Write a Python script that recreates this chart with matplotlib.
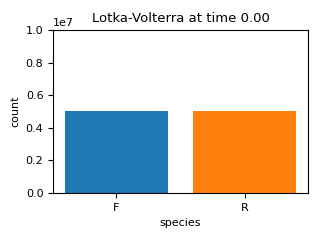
import matplotlib
matplotlib.use("Agg")
import matplotlib.pyplot as plt

species = ["F", "R"]
counts = [5.0e6, 5.0e6]
bar_colors = ["#1f77b4", "#ff7f0e"]
time = 0.0

plt.rcParams['font.size'] = 8

fig, ax = plt.subplots(figsize=(3.2, 2.4), dpi=100)
fig.subplots_adjust(left=0.166, right=0.9625, top=0.875, bottom=0.196)

ax.bar(species, counts, color=bar_colors)
ax.set_ylim(0, 1.0e7)
ax.set_xlabel("species")
ax.set_ylabel("count")
ax.set_title("Lotka-Volterra at time %.2f" % time, fontsize=9.5)

fig.savefig("out.png", dpi=100)
